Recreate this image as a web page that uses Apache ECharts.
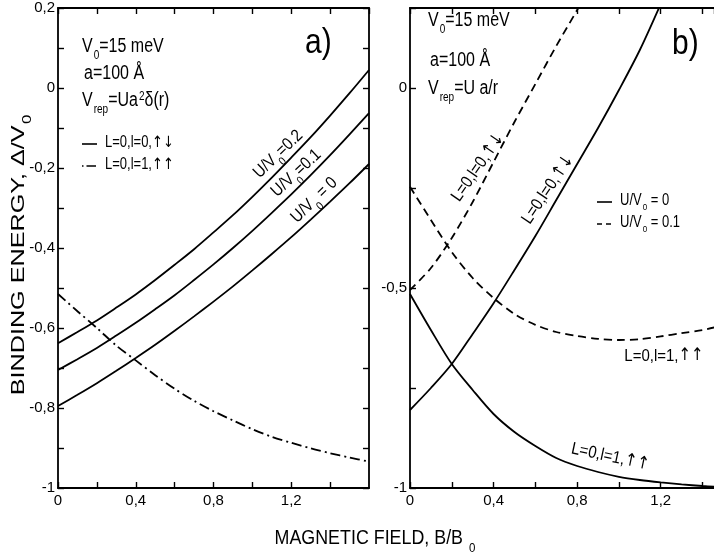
<!DOCTYPE html>
<html>
<head>
<meta charset="utf-8">
<script src="https://cdn.jsdelivr.net/npm/echarts@6/dist/echarts.min.js"></script>
<style>html,body{margin:0;padding:0;background:#fff}#chart{width:714px;height:556px}</style>
</head>
<body>
<div id="chart"></div>
<script>
// panel a) contact repulsion, panel b) coulomb repulsion
var fieldA = [0, 0.1, 0.2, 0.3, 0.4, 0.5, 0.6, 0.7, 0.8, 0.9, 1.0, 1.1, 1.2, 1.3, 1.4, 1.5, 1.6];
var singletU02 = [-0.638, -0.610, -0.581, -0.549, -0.516, -0.480, -0.442, -0.403, -0.361, -0.318, -0.272, -0.224, -0.174, -0.123, -0.069, -0.013, 0.045];
var singletU01 = [-0.705, -0.678, -0.650, -0.619, -0.587, -0.553, -0.518, -0.480, -0.441, -0.400, -0.357, -0.312, -0.266, -0.218, -0.168, -0.116, -0.063];
var singletU0 = [-0.795, -0.767, -0.738, -0.707, -0.675, -0.642, -0.607, -0.571, -0.534, -0.496, -0.456, -0.415, -0.373, -0.329, -0.284, -0.238, -0.190];
var tripletA = [-0.515, -0.558, -0.600, -0.644, -0.681, -0.718, -0.752, -0.782, -0.808, -0.831, -0.853, -0.872, -0.887, -0.901, -0.913, -0.924, -0.934];

var fieldB = [0, 0.1, 0.2, 0.3, 0.4, 0.5, 0.6, 0.7, 0.8, 0.9, 1.0, 1.1, 1.2, 1.3, 1.4, 1.46];
var singletB0 = [-0.805, -0.75, -0.69, -0.615, -0.538, -0.455, -0.37, -0.28, -0.19, -0.10, -0.005, 0.095, 0.21];
var tripletB0 = [-0.515, -0.605, -0.69, -0.755, -0.815, -0.86, -0.895, -0.925, -0.945, -0.96, -0.972, -0.98, -0.986, -0.991, -0.995, -0.997];
var singletB01 = [-0.505, -0.45, -0.375, -0.285, -0.185, -0.085, 0.01, 0.105, 0.195, 0.29];
var tripletB01 = [-0.247, -0.33, -0.41, -0.475, -0.525, -0.565, -0.592, -0.61, -0.62, -0.627, -0.63, -0.628, -0.621, -0.613, -0.605, -0.598];

var FONT = "'Liberation Sans', Arial, sans-serif";
var ARROWS = "'DejaVu Sans', sans-serif";

function zip(xs, ys) {
  var out = [];
  for (var i = 0; i < ys.length; i++) out.push([xs[i], ys[i]]);
  return out;
}
function comma(v) { return String(v).replace('.', ','); }

function fmtX(v) {
  var n = Math.round(v * 10);
  if (n % 4 !== 0) return '';
  return comma(n / 10);
}
function fmtYa(v) {
  var n = Math.round(v * 10);
  return n % 2 === 0 ? comma(n / 10) : '';
}
function fmtYb(v) {
  var n = Math.round(v * 100);
  return n % 50 === 0 ? comma(n / 100) : '';
}

function xAx(grid, max, pos, labels) {
  return {
    type: 'value', gridIndex: grid, position: pos, min: 0, max: max, interval: 0.2,
    axisLine: {show: true, onZero: false, lineStyle: {color: '#000', width: 1.8}},
    axisTick: {show: true, inside: true, length: 6, lineStyle: {color: '#000', width: 1.4}},
    axisLabel: {show: labels, color: '#000', fontSize: 15, fontFamily: FONT, margin: 5, showMaxLabel: false, formatter: fmtX},
    splitLine: {show: false}
  };
}
function yAx(grid, interval, pos, labels, fmt) {
  return {
    type: 'value', gridIndex: grid, position: pos, min: -1, max: 0.2, interval: interval,
    axisLine: {show: true, onZero: false, lineStyle: {color: '#000', width: 1.8}},
    axisTick: {show: true, inside: true, length: 6, lineStyle: {color: '#000', width: 1.4}},
    axisLabel: {show: labels, color: '#000', fontSize: 15, fontFamily: FONT, margin: 3, formatter: fmt},
    splitLine: {show: false}
  };
}

function line(xi, yi, data, dash) {
  return {
    type: 'line', xAxisIndex: xi, yAxisIndex: yi, data: data, showSymbol: false, smooth: 0.3,
    lineStyle: {color: '#000', width: 1.8, type: dash || 'solid'}, silent: true
  };
}

function rich(size) {
  var sub = Math.round(size * 0.65);
  return {
    n: {fontSize: size, fontFamily: FONT, lineHeight: size + 2, verticalAlign: 'top', fill: '#000', color: '#000'},
    r: {fontSize: size, fontFamily: ARROWS, lineHeight: size + 2, verticalAlign: 'top', fill: '#000', color: '#000'},
    s: {fontSize: sub, fontFamily: FONT, lineHeight: sub, padding: [Math.round(size * 0.65), 0, 0, 1], verticalAlign: 'top', fill: '#000', color: '#000'},
    p: {fontSize: sub, fontFamily: FONT, lineHeight: sub, padding: [0, 0, 0, 1], verticalAlign: 'top', fill: '#000', color: '#000'}
  };
}
// sx / sy stretch the text like the scanned original
function label(x, y, text, size, rot, align, sx, sy) {
  return {
    type: 'text', x: x, y: y, rotation: (rot || 0) * Math.PI / 180, silent: true,
    scaleX: sx || 1, scaleY: sy || 1,
    style: {
      text: text, fill: '#000', font: size + 'px ' + FONT, rich: rich(size),
      textAlign: align || 'left', align: align || 'left',
      textVerticalAlign: 'middle', verticalAlign: 'middle'
    }
  };
}
function sample(x1, x2, y, dash) {
  return {type: 'line', silent: true, shape: {x1: x1, y1: y, x2: x2, y2: y},
    style: {stroke: '#000', lineWidth: 1.6, lineDash: dash || null}};
}

var chart = echarts.init(document.getElementById('chart'));
chart.setOption({
  animation: false,
  backgroundColor: '#fff',
  grid: [
    {left: 58, top: 8, width: 311, height: 480},
    {left: 410, top: 8, width: 304, height: 480}
  ],
  xAxis: [xAx(0, 1.6, 'bottom', true), xAx(0, 1.6, 'top', false), xAx(1, 1.455, 'bottom', true), xAx(1, 1.455, 'top', false)],
  yAxis: [yAx(0, 0.1, 'left', true, fmtYa), yAx(0, 0.1, 'right', false, fmtYa), yAx(1, 0.25, 'left', true, fmtYb)],
  series: [
    line(0, 0, zip(fieldA, singletU02)),
    line(0, 0, zip(fieldA, singletU01)),
    line(0, 0, zip(fieldA, singletU0)),
    line(0, 0, zip(fieldA, tripletA), [10, 4, 2, 4]),
    line(2, 2, zip(fieldB, singletB0)),
    line(2, 2, zip(fieldB, tripletB0)),
    line(2, 2, zip(fieldB, singletB01), [8, 5]),
    line(2, 2, zip(fieldB, tripletB01), [8, 5])
  ],
  graphic: [
    label(20, 255, '{n|BINDING ENERGY, Δ/V}{s|0}', 18, 90, 'center', 1.4, 1),
    label(375, 540, '{n|MAGNETIC FIELD, B/B }{s|0}', 17, 0, 'center', 1.05, 1.15),

    label(82, 48, '{n|V}{s|0}{n|=15 meV}', 16, 0, 'left', 1, 1.25),
    label(84, 75, '{n|a=100 Å}', 16, 0, 'left', 1, 1.25),
    label(82, 102, '{n|V}{s|rep}{n|=Ua}{p|2}{n|δ(r)}', 16, 0, 'left', 1, 1.25),
    sample(82, 97, 144),
    label(105, 144, '{n|L=0,l=0,}{r|↑↓}', 13, 0, 'left', 1, 1.2),
    sample(82, 97, 166, [1.5, 3, 8, 0]),
    label(105, 166, '{n|L=0,l=1,}{r|↑↑}', 13, 0, 'left', 1, 1.2),
    label(305, 45, '{n|a)}', 30, 0, 'left', 1, 1.15),
    label(279, 155, '{n|U/V}{s|0}{n|=0.2}', 15, 44, 'center', 1, 1.15),
    label(297, 174, '{n|U/V}{s|0}{n|=0.1}', 15, 43, 'center', 1, 1.15),
    label(315, 201, '{n|U/V}{s|0}{n| = 0}', 15, 44, 'center', 1, 1.15),

    label(428, 22, '{n|V}{s|0}{n|=15 meV}', 16, 0, 'left', 1, 1.25),
    label(430, 62, '{n|a=100 Å}', 16, 0, 'left', 1, 1.25),
    label(428, 90, '{n|V}{s|rep}{n|=U a/r}', 16, 0, 'left', 1, 1.25),
    label(672, 46, '{n|b)}', 30, 0, 'left', 1, 1.15),
    sample(597, 612, 202),
    label(620, 202, '{n|U/V}{s|0}{n| = 0}', 13, 0, 'left', 1, 1.2),
    sample(597, 612, 224, [5, 4]),
    label(620, 224, '{n|U/V}{s|0}{n| = 0.1}', 13, 0, 'left', 1, 1.2),
    label(479, 168, '{n|L=0,l=0,}{r|↑↓}', 15, 55, 'center', 1, 1.15),
    label(549, 190, '{n|L=0,l=0,}{r|↑↓}', 15, 56, 'center', 1, 1.15),
    label(664, 357, '{n|L=0,l=1,}{r|↑↑}', 15, 0, 'center', 1, 1.15),
    label(610, 458, '{n|L=0,l=1,}{r|↑↑}', 15, -12, 'center', 1, 1.15)
  ]
});
</script>
</body>
</html>
